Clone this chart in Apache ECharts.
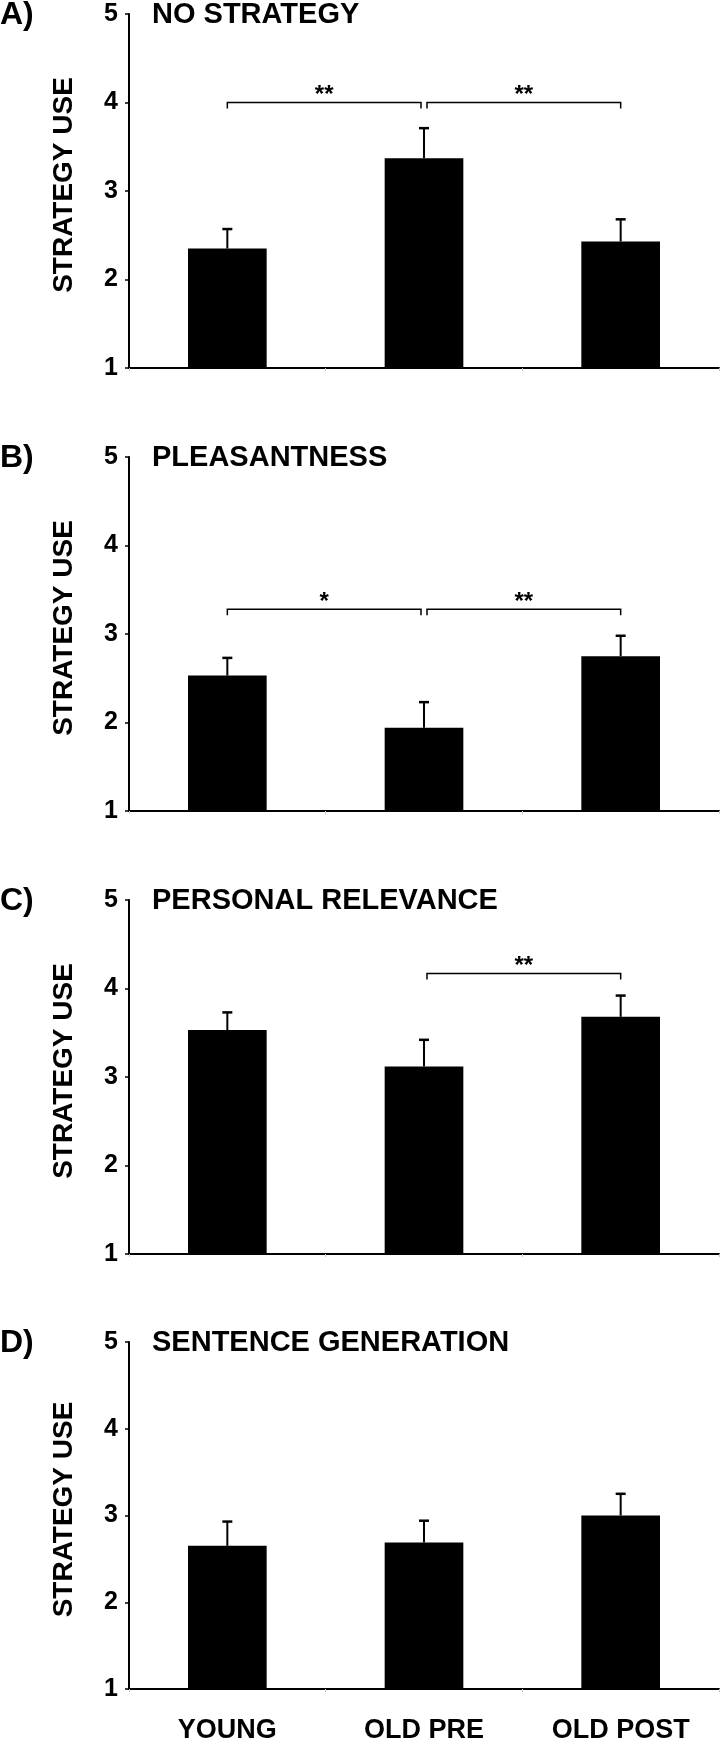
<!DOCTYPE html>
<html>
<head>
<meta charset="utf-8">
<script src="https://cdn.jsdelivr.net/npm/echarts@6/dist/echarts.min.js"></script>
<style>
  html, body { margin: 0; padding: 0; background: #fff; }
  #chart { width: 721px; height: 1744px; }
</style>
</head>
<body>
<div id="chart"></div>
<script>
// ---- data ----
const categories = ['YOUNG', 'OLD PRE', 'OLD POST'];
const panelLetters = ['A)', 'B)', 'C)', 'D)'];
const panelTitles = ['NO STRATEGY', 'PLEASANTNESS', 'PERSONAL RELEVANCE', 'SENTENCE GENERATION'];
const yAxisName = 'STRATEGY USE';
const yMin = 1, yMax = 5, yStep = 1;

const meansA = [2.35, 3.37, 2.43];
const semA   = [0.22, 0.34, 0.25];
const meansB = [2.53, 1.94, 2.75];
const semB   = [0.20, 0.29, 0.23];
const meansC = [3.53, 3.12, 3.68];
const semC   = [0.20, 0.30, 0.24];
const meansD = [2.65, 2.69, 3.00];
const semD   = [0.28, 0.25, 0.25];

// significance brackets: [fromCategory, toCategory, level, stars]
const bracketsA = [[0, 1, 4.00, '**'], [1, 2, 4.00, '**']];
const bracketsB = [[0, 1, 3.28, '*'], [1, 2, 3.28, '**']];
const bracketsC = [[1, 2, 4.17, '**']];
const bracketsD = [];

const panels = [
  { means: meansA, sem: semA, brackets: bracketsA },
  { means: meansB, sem: semB, brackets: bracketsB },
  { means: meansC, sem: semC, brackets: bracketsC },
  { means: meansD, sem: semD, brackets: bracketsD }
];

// ---- layout ----
const FONT = '"Liberation Sans", Arial, sans-serif';
const gridTops = [14, 457, 900, 1342];
const gridH = 354;
const gridLeft = 129;

const chart = echarts.init(document.getElementById('chart'), null, { renderer: 'canvas' });

const grids = [], xAxes = [], yAxes = [], series = [], graphics = [];

panels.forEach((p, i) => {
  grids.push({ left: gridLeft, right: 2, top: gridTops[i], height: gridH });
  xAxes.push({
    type: 'category', gridIndex: i, data: categories,
    axisLine: { lineStyle: { color: '#000', width: 2 } },
    axisTick: { show: true, length: 3, lineStyle: { color: '#c8c8c8', width: 1 } },
    axisLabel: {
      show: i === 3, color: '#000', fontFamily: FONT, fontWeight: 'bold',
      fontSize: 27, margin: 28
    },
    splitLine: { show: false }
  });
  yAxes.push({
    type: 'value', gridIndex: i, min: yMin, max: yMax, interval: yStep,
    name: yAxisName, nameLocation: 'middle', nameGap: 51,
    nameTextStyle: { color: '#000', fontFamily: FONT, fontWeight: 'bold', fontSize: 28,
      padding: [0, 0, 0, 12] },
    axisLine: { show: true, lineStyle: { color: '#000', width: 2 } },
    axisTick: { show: true, length: 4, lineStyle: { color: '#000', width: 1.5 } },
    axisLabel: { color: '#000', fontFamily: FONT, fontWeight: 'bold', fontSize: 25, margin: 11 },
    splitLine: { show: false }
  });
  series.push({
    type: 'bar', xAxisIndex: i, yAxisIndex: i, data: p.means,
    barWidth: '40%', itemStyle: { color: '#000' }, silent: true, animation: false
  });
  series.push({
    type: 'custom', xAxisIndex: i, yAxisIndex: i, clip: false, animation: false, silent: true,
    data: p.means.map((m, k) => [k, m, m + p.sem[k]]),
    renderItem: function (params, api) {
      const a = api.coord([api.value(0), api.value(1)]);
      const b = api.coord([api.value(0), api.value(2)]);
      const capHalf = 5;
      return {
        type: 'group',
        children: [
          { type: 'line', shape: { x1: a[0], y1: a[1], x2: b[0], y2: b[1] },
            style: { stroke: '#000', lineWidth: 2 } },
          { type: 'line', shape: { x1: b[0] - capHalf, y1: b[1], x2: b[0] + capHalf, y2: b[1] },
            style: { stroke: '#000', lineWidth: 2.5 } }
        ]
      };
    }
  });
  if (p.brackets.length) {
    series.push({
      type: 'custom', xAxisIndex: i, yAxisIndex: i, clip: false, animation: false, silent: true,
      data: p.brackets.map(b => [b[0], b[1], b[2]]),
      renderItem: function (params, api) {
        const from = api.value(0), to = api.value(1), lvl = api.value(2);
        const stars = p.brackets[params.dataIndex][3];
        const pa = api.coord([from, lvl]);
        const pb = api.coord([to, lvl]);
        let x1 = pa[0], x2 = pb[0];
        if (from === 1) x1 += 3;
        if (to === 1) x2 -= 3;
        const y = pa[1];
        const drop = 6;
        return {
          type: 'group',
          children: [
            { type: 'polyline',
              shape: { points: [[x1, y + drop], [x1, y], [x2, y], [x2, y + drop]] },
              style: { stroke: '#000', lineWidth: 1.5, fill: null } },
            { type: 'text',
              style: { x: (x1 + x2) / 2, y: y - 19, text: stars, fill: '#000',
                font: 'bold 24px ' + FONT, textAlign: 'center', textVerticalAlign: 'top' } }
          ]
        };
      }
    });
  }
  graphics.push({
    type: 'text', left: 0, top: gridTops[i] - 15, silent: true,
    style: { text: panelLetters[i], fill: '#000', font: 'bold 32px ' + FONT }
  });
  graphics.push({
    type: 'text', left: 152, top: gridTops[i] - 14, silent: true,
    style: { text: panelTitles[i], fill: '#000', font: 'bold 29px ' + FONT }
  });
});

chart.setOption({
  animation: false,
  backgroundColor: '#fff',
  grid: grids,
  xAxis: xAxes,
  yAxis: yAxes,
  series: series,
  graphic: graphics
});
</script>
</body>
</html>
